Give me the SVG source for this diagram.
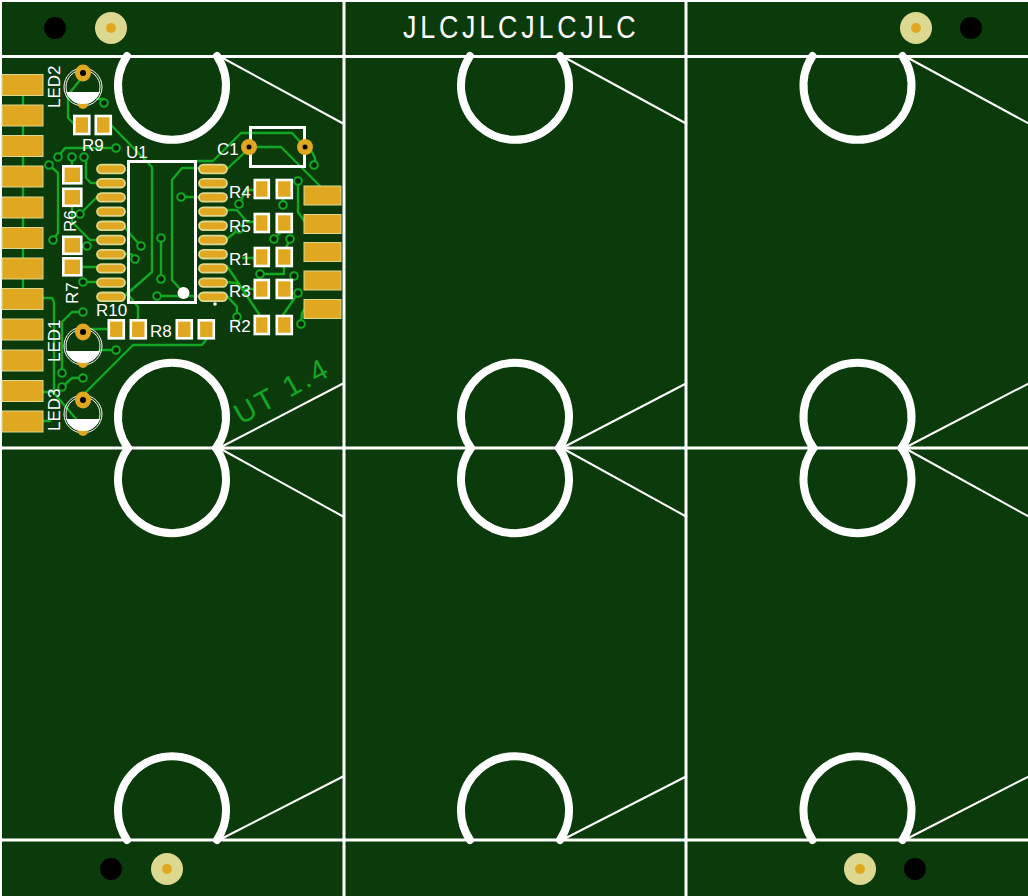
<svg xmlns="http://www.w3.org/2000/svg" xmlns:xlink="http://www.w3.org/1999/xlink" width="1028" height="896" viewBox="0 0 1028 896">
<style>
.edge{fill:none;stroke:#fff;stroke-width:3}
.arc{fill:none;stroke:#fff;stroke-width:8;stroke-linecap:round}
.thin{fill:none;stroke:#fff;stroke-width:2}
.t{fill:none;stroke:#12a824;stroke-width:2.400;stroke-linejoin:round;stroke-linecap:round}
.v{fill:#062406;stroke:#12a824;stroke-width:2}
.g{fill:#e0a820;stroke:#dcd890;stroke-width:1}
.p{fill:#e0a820;stroke:#dcd890;stroke-width:1.800}
.s{fill:#e0a820;stroke:#fff;stroke-width:2.600}
.l{fill:#fff;font-family:"Liberation Sans",sans-serif;font-size:17px}
.hole{fill:#000}
.ring{fill:#dcd890}
.core{fill:#e0a820}
.lp{fill:#e0a820}
.o{fill:none;stroke:#fff;stroke-width:3}
.c{fill:none;stroke:#fff;stroke-width:1}
</style>
<defs>
<g id="cell">
<path class="arc" d="M127 56A54 54 0 1 0 217 56"/>
<path class="arc" d="M128 448A54 54 0 1 1 216 448"/>
<path class="arc" d="M128 448A54 54 0 1 0 216 448"/>
<path class="arc" d="M127 840A54 54 0 1 1 217 840"/>
<path class="thin" d="M219 56L344 124M219 448L344 383M219 448L344 517M219 840L344 776"/>
</g>
<g id="led">
<circle class="c" cx="0" cy="14" r="19"/><circle class="c" cx="0" cy="14" r="17"/>
<circle class="lp" cx="0" cy="31" r="5"/>
<path d="M-17 19H17A18 18 0 0 1 -17 19Z" fill="#fff"/>
<ellipse cx="0" cy="0" rx="8" ry="8.500" fill="#e0a820"/><circle class="hole" cx="0" cy="0" r="3"/>
</g>
</defs>
<rect width="1028" height="896" fill="#fff"/>
<rect x="2" y="2" width="1026" height="894" fill="#0b3a0b"/>
<g id="outlines">
<path class="edge" d="M0 56.500H1028M0 448H1028M0 840H1028M344 0V896M686 0V896"/>
<use xlink:href="#cell"/>
<use xlink:href="#cell" x="343"/>
<use xlink:href="#cell" x="685.500"/>
</g>
<g id="tooling">
<circle class="hole" cx="55" cy="28" r="11"/><circle class="ring" cx="111" cy="28" r="16"/><circle class="core" cx="111" cy="28" r="5"/>
<circle class="ring" cx="916" cy="28" r="16"/><circle class="core" cx="916" cy="28" r="5"/><circle class="hole" cx="971" cy="28" r="11"/>
<circle class="hole" cx="111" cy="869" r="11"/><circle class="ring" cx="167" cy="869" r="16"/><circle class="core" cx="167" cy="869" r="5"/>
<circle class="ring" cx="860" cy="869" r="16"/><circle class="core" cx="860" cy="869" r="5"/><circle class="hole" cx="915" cy="869" r="11"/>
</g>
<g id="connectors">
<path class="t" d="M23 96V288"/>
<path class="t" d="M80 80L68 95V118L75 125M97 99H104M112 126L152 167V272L128 293L125 296M116 148H65L58 157M72 157V168M86 157V178L91 183H98M49 165L58 173V233L53 240M80 214L97 197M72 205V222L90 240H98M82 246H87M124 226L130 234L141 246M125 254H131L135 259M161 238V279M157 296H198M196 161H213L241 133H292L305 147M198 168H182L172 180V280L184 293M181 197H198M227 169L244 153M257 147H281L321 187M305 147L312 152L315 158V165M298 181V212L305 222M227 210H237L247 222H255M239 204L246 190H255M283 205V198M239 229L227 239M274 239L280 233M290 239L285 250M243 258H256M260 274H284V267M294 276L290 282M298 293L283 315M227 266L259 314M227 282L235 283L246 289H255M227 296L237 307V317M301 324L302 313L305 308M206 340L202 345H133L83 395M110 329H88M138 319V307L127 293M97 282H83M83 267H98" />
<path class="t" d="M43 298H52L54 302V394M43 392H53L77 420M43 421H50M83 312H72L62 322V373M83 378H72L62 387M116 350H100"/>
<g id="vias">
<circle class="v" cx="104" cy="103" r="3.800"/><circle class="v" cx="116" cy="148" r="3.800"/><circle class="v" cx="58" cy="157" r="3.800"/><circle class="v" cx="72" cy="157" r="3.800"/><circle class="v" cx="84" cy="157" r="3.800"/><circle class="v" cx="49" cy="165" r="3.800"/><circle class="v" cx="53" cy="240" r="3.800"/><circle class="v" cx="80" cy="214" r="3.800"/><circle class="v" cx="87" cy="246" r="3.800"/><circle class="v" cx="141" cy="246" r="3.800"/><circle class="v" cx="135" cy="259" r="3.800"/><circle class="v" cx="161" cy="238" r="3.800"/><circle class="v" cx="161" cy="279" r="3.800"/><circle class="v" cx="157" cy="296" r="3.800"/><circle class="v" cx="181" cy="197" r="3.800"/><circle class="v" cx="314" cy="165" r="3.800"/><circle class="v" cx="298" cy="181" r="3.800"/><circle class="v" cx="239" cy="204" r="3.800"/><circle class="v" cx="283" cy="205" r="3.800"/><circle class="v" cx="239" cy="229" r="3.800"/><circle class="v" cx="274" cy="239" r="3.800"/><circle class="v" cx="290" cy="239" r="3.800"/><circle class="v" cx="260" cy="274" r="3.800"/><circle class="v" cx="294" cy="276" r="3.800"/><circle class="v" cx="298" cy="293" r="3.800"/><circle class="v" cx="237" cy="317" r="3.800"/><circle class="v" cx="301" cy="324" r="3.800"/><circle class="v" cx="83" cy="282" r="3.800"/><circle class="v" cx="83" cy="312" r="3.800"/><circle class="v" cx="62" cy="373" r="3.800"/><circle class="v" cx="83" cy="378" r="3.800"/><circle class="v" cx="62" cy="387" r="3.800"/><circle class="v" cx="116" cy="350" r="3.800"/>
</g>
</g>
<g id="J1">
<rect class="g" x="2" y="74.500" width="41" height="21"/><rect class="g" x="2" y="105" width="41" height="21"/><rect class="g" x="2" y="135.500" width="41" height="21"/><rect class="g" x="2" y="166" width="41" height="21"/><rect class="g" x="2" y="197" width="41" height="21"/><rect class="g" x="2" y="227.500" width="41" height="21"/><rect class="g" x="2" y="258" width="41" height="21"/><rect class="g" x="2" y="288.500" width="41" height="21"/><rect class="g" x="2" y="319" width="41" height="21"/><rect class="g" x="2" y="350" width="41" height="21"/><rect class="g" x="2" y="380.500" width="41" height="21"/><rect class="g" x="2" y="411" width="41" height="21"/>
</g>
<g id="J2">
<rect class="g" x="304" y="186" width="37" height="19"/><rect class="g" x="304" y="214.500" width="37" height="19"/><rect class="g" x="304" y="242.500" width="37" height="19"/><rect class="g" x="304" y="271" width="37" height="19"/><rect class="g" x="304" y="299.500" width="37" height="19"/>
</g>
<g id="U1">
<rect class="o" x="128.500" y="161.500" width="67" height="141"/>
<rect class="p" x="97" y="164.700" width="28" height="8.600" rx="4.300"/><rect class="p" x="97" y="178.900" width="28" height="8.600" rx="4.300"/><rect class="p" x="97" y="193.100" width="28" height="8.600" rx="4.300"/><rect class="p" x="97" y="207.300" width="28" height="8.600" rx="4.300"/><rect class="p" x="97" y="221.500" width="28" height="8.600" rx="4.300"/><rect class="p" x="97" y="235.700" width="28" height="8.600" rx="4.300"/><rect class="p" x="97" y="249.900" width="28" height="8.600" rx="4.300"/><rect class="p" x="97" y="264.100" width="28" height="8.600" rx="4.300"/><rect class="p" x="97" y="278.300" width="28" height="8.600" rx="4.300"/><rect class="p" x="97" y="292.500" width="28" height="8.600" rx="4.300"/>
<rect class="p" x="199" y="164.700" width="28" height="8.600" rx="4.300"/><rect class="p" x="199" y="178.900" width="28" height="8.600" rx="4.300"/><rect class="p" x="199" y="193.100" width="28" height="8.600" rx="4.300"/><rect class="p" x="199" y="207.300" width="28" height="8.600" rx="4.300"/><rect class="p" x="199" y="221.500" width="28" height="8.600" rx="4.300"/><rect class="p" x="199" y="235.700" width="28" height="8.600" rx="4.300"/><rect class="p" x="199" y="249.900" width="28" height="8.600" rx="4.300"/><rect class="p" x="199" y="264.100" width="28" height="8.600" rx="4.300"/><rect class="p" x="199" y="278.300" width="28" height="8.600" rx="4.300"/><rect class="p" x="199" y="292.500" width="28" height="8.600" rx="4.300"/>
<circle cx="183.500" cy="293" r="6" fill="#fff"/><circle cx="215" cy="304" r="1.800" fill="#fff"/>
<text class="l" x="126" y="158">U1</text>
</g>
<g id="resistors">
<rect class="s" x="74.300" y="116" width="15" height="18"/><rect class="s" x="95.800" y="116" width="15" height="18"/>
<rect class="s" x="63.300" y="166.300" width="18" height="17"/><rect class="s" x="63.300" y="188.800" width="18" height="17"/>
<rect class="s" x="63.300" y="236.800" width="18" height="17"/><rect class="s" x="63.300" y="258.300" width="18" height="17"/>
<rect class="s" x="108.800" y="320.300" width="15" height="18"/><rect class="s" x="130.800" y="320.300" width="15" height="18"/>
<rect class="s" x="176.800" y="320.300" width="15" height="18"/><rect class="s" x="198.800" y="320.300" width="15" height="18"/>
<rect class="s" x="254.800" y="180" width="14" height="18"/><rect class="s" x="276.800" y="180" width="15" height="18"/>
<rect class="s" x="254.800" y="214" width="14" height="18"/><rect class="s" x="276.800" y="214" width="15" height="18"/>
<rect class="s" x="254.800" y="248" width="14" height="18"/><rect class="s" x="276.800" y="248" width="15" height="18"/>
<rect class="s" x="254.800" y="280" width="14" height="18"/><rect class="s" x="276.800" y="280" width="15" height="18"/>
<rect class="s" x="254.800" y="316" width="14" height="18"/><rect class="s" x="276.800" y="316" width="15" height="18"/>
</g>
<g id="C1">
<rect class="o" x="250.500" y="127.500" width="54" height="39"/>
<circle cx="249" cy="147" r="8" fill="#e0a820"/><circle class="hole" cx="249" cy="147" r="2.500"/>
<circle cx="305" cy="147" r="8" fill="#e0a820"/><circle class="hole" cx="305" cy="147" r="2.500"/>
<text class="l" x="217" y="155">C1</text>
</g>
<use id="LED2" xlink:href="#led" x="83" y="73"/>
<use id="LED1" xlink:href="#led" x="83" y="332"/>
<use id="LED3" xlink:href="#led" x="83" y="400"/>
<g id="labels">
<text class="l" x="82" y="151">R9</text><text class="l" x="229" y="198">R4</text><text class="l" x="229" y="232">R5</text><text class="l" x="229" y="265">R1</text><text class="l" x="229" y="297">R3</text><text class="l" x="229" y="332">R2</text><text class="l" x="96" y="316">R10</text><text class="l" x="150" y="337">R8</text>
<text class="l" transform="translate(76 232) rotate(-90)">R6</text><text class="l" transform="translate(78 304) rotate(-90)">R7</text>
<text class="l" transform="translate(60 108) rotate(-90)">LED2</text><text class="l" transform="translate(60 362) rotate(-90)">LED1</text><text class="l" transform="translate(60 431) rotate(-90)">LED3</text>
<text transform="translate(403 38) scale(.84 1)" textLength="277" lengthAdjust="spacing" style="fill:#fff;font-family:'Liberation Sans',sans-serif;font-size:32px">JLCJLCJLCJLC</text>
<text transform="translate(241 425) rotate(-29)" textLength="102" lengthAdjust="spacing" style="fill:#12a824;font-family:'Liberation Sans',sans-serif;font-size:29px">UT 1.4</text>
</g>
</svg>
